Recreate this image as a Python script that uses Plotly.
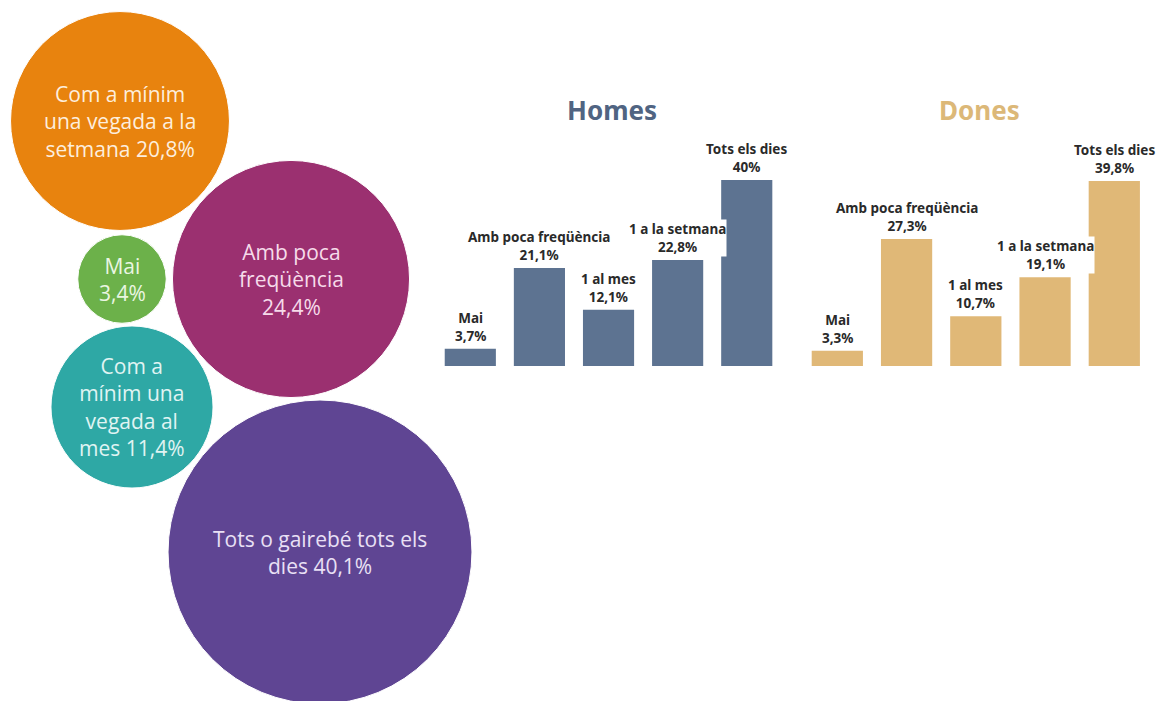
import plotly.graph_objects as go

# ---------------- data ----------------
bubble_labels = ["Com a mínim<br>una vegada a la<br>setmana", "Amb poca<br>freqüència", "Mai",
                 "Com a<br>mínim una<br>vegada al<br>mes", "Tots o gairebé tots els<br>dies"]
bubble_value_sep = [" ", "<br>", "<br>", " ", " "]
bubble_values = [20.8, 24.4, 3.4, 11.4, 40.1]

bar_categories = ["Mai", "Amb poca freqüència", "1 al mes", "1 a la setmana", "Tots els dies"]
homes_values = [3.7, 21.1, 12.1, 22.8, 40]
dones_values = [3.3, 27.3, 10.7, 19.1, 39.8]
panel_titles = ["Homes", "Dones"]

# ---------------- layout constants ----------------
OFF = 8  # page body margin
W, H = 1169 - OFF, 701 - OFF
bubble_cx = [120 - OFF, 291 - OFF, 122 - OFF, 132 - OFF, 320 - OFF]
bubble_cy = [121 - OFF, 279 - OFF, 279 - OFF, 407 - OFF, 552 - OFF]
bubble_colors = ["#e8830e", "#9b3070", "#6cb14a", "#2ea8a5", "#5f4593"]
bubble_text_colors = ["#fdeedd", "#f6dbea", "#eaf6e2", "#e0f4f3", "#e9e0f5"]


def fmt(v):
    if float(v).is_integer():
        return f"{int(v)}%"
    return f"{v:.1f}".replace(".", ",") + "%"


bubble_text = [f"{lab}{sep}{fmt(v)}" for lab, sep, v in zip(bubble_labels, bubble_value_sep, bubble_values)]

fig = go.Figure()

# bubbles (area proportional to value)
fig.add_trace(go.Scatter(
    x=bubble_cx, y=bubble_cy, mode="markers",
    marker=dict(size=bubble_values, sizemode="area", sizeref=1 / 1152,
                color=bubble_colors, opacity=1, line=dict(color="white", width=1)),
    hoverinfo="skip", showlegend=False, cliponaxis=True,
    xaxis="x", yaxis="y",
))

# bubble labels
for cx, cy, txt, tc in zip(bubble_cx, bubble_cy, bubble_text, bubble_text_colors):
    fig.add_annotation(
        x=cx, y=cy, xref="x", yref="y",
        text=txt, showarrow=False, xanchor="center", yanchor="middle", align="center",
        font=dict(family="Open Sans", size=21, color=tc),
    )

bar_colors = ["#5d7391", "#e0b877"]
title_colors = ["#506482", "#dcb878"]
domains = [[(435.75 - OFF) / W, (788.25 - OFF) / W], [(802.7 - OFF) / W, (1155.8 - OFF) / W]]
base_px = 366 - OFF
ydom = [(H - base_px) / H, (H - base_px + 45 * 4.65) / H]

for i, (vals, xa, ya) in enumerate([(homes_values, "x2", "y2"), (dones_values, "x3", "y3")]):
    fig.add_trace(go.Bar(
        x=bar_categories, y=vals, marker=dict(color=bar_colors[i], line=dict(width=0)),
        xaxis=xa, yaxis=ya, showlegend=False, hoverinfo="skip",
    ))
    for c, v in zip(bar_categories, vals):
        fig.add_annotation(
            x=c, y=v, xref=xa, yref=ya, text=f"<b>{c}<br>{fmt(v)}</b>",
            showarrow=False, yanchor="bottom", yshift=3,
            font=dict(family="Noto Sans", size=13.5, color="#2a2a2a"),
            bgcolor="white", borderpad=0,
        )
    fig.add_annotation(
        x=(domains[i][0] + domains[i][1]) / 2, y=(H - (110 - OFF)) / H, xref="paper", yref="paper",
        text=f"<b>{panel_titles[i]}</b>", showarrow=False,
        font=dict(family="Noto Sans", size=26, color=title_colors[i]),
        xanchor="center", yanchor="middle",
    )

fig.update_layout(
    width=W, height=H, margin=dict(l=0, r=0, t=0, b=0),
    paper_bgcolor="white", plot_bgcolor="rgba(0,0,0,0)",
    bargap=0.26,
    xaxis=dict(domain=[0, 1], range=[0, W], visible=False, fixedrange=True),
    yaxis=dict(domain=[0, 1], range=[H, 0], visible=False, fixedrange=True),
    xaxis2=dict(domain=domains[0], anchor="y2", visible=False),
    yaxis2=dict(domain=ydom, range=[0, 45], anchor="x2", visible=False),
    xaxis3=dict(domain=domains[1], anchor="y3", visible=False),
    yaxis3=dict(domain=ydom, range=[0, 45], anchor="x3", visible=False),
)

fig.write_html("out.html")
